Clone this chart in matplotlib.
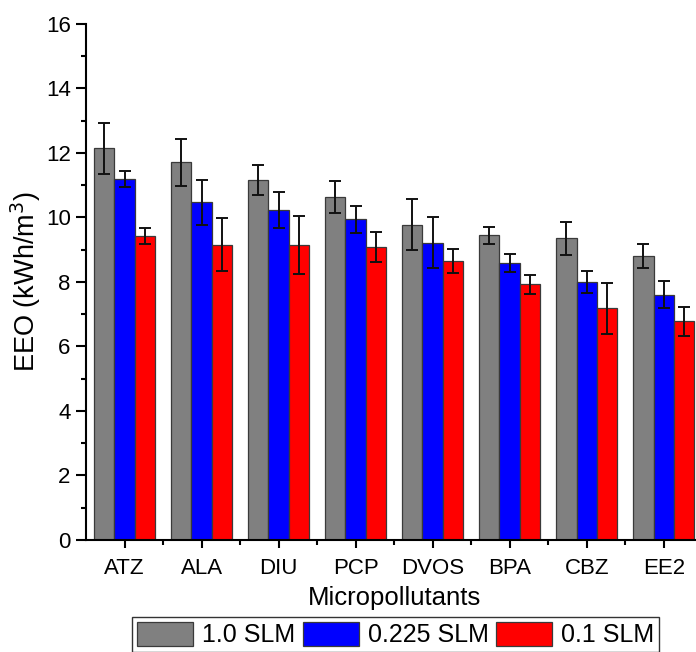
import matplotlib.pyplot as plt
import numpy as np
from matplotlib.ticker import MultipleLocator

plt.rcParams['font.family'] = ['Liberation Sans', 'DejaVu Sans']

#### Data
pollutants = ['ATZ', 'ALA', 'DIU', 'PCP', 'DVOS', 'BPA', 'CBZ', 'EE2']
series_names = ['1.0 SLM', '0.225 SLM', '0.1 SLM']

eeo_10 = [12.14, 11.71, 11.16, 10.64, 9.78, 9.45, 9.36, 8.80]
err_10 = [0.80, 0.72, 0.46, 0.50, 0.80, 0.27, 0.51, 0.37]

eeo_0225 = [11.19, 10.47, 10.23, 9.94, 9.22, 8.59, 8.00, 7.61]
err_0225 = [0.26, 0.70, 0.57, 0.42, 0.80, 0.27, 0.34, 0.43]

eeo_01 = [9.42, 9.16, 9.16, 9.09, 8.65, 7.93, 7.18, 6.78]
err_01 = [0.25, 0.82, 0.90, 0.46, 0.37, 0.29, 0.80, 0.45]

colors = ['#808080', '#0000FF', '#FF0000']

#### Figure
fig = plt.figure(figsize=(6.96, 6.52), dpi=100)
ax = fig.add_axes([0.1236, 0.1718, 0.8854, 0.7914])

x = np.arange(1, len(pollutants) + 1)
w = 0.265
all_vals = [eeo_10, eeo_0225, eeo_01]
all_errs = [err_10, err_0225, err_01]
handles = []
for k in range(3):
    b = ax.bar(x + (k - 1) * w, all_vals[k], w, color=colors[k],
               edgecolor='#3a3a3a', linewidth=0.9, label=series_names[k],
               yerr=all_errs[k], capsize=4,
               error_kw=dict(ecolor='#111111', elinewidth=1.4, capthick=1.4))
    handles.append(b)

ax.set_xlim(0.5, 8.5)
ax.set_ylim(0, 16)
ax.set_xticks(x)
ax.set_xticklabels(pollutants)
ax.set_xticks(np.arange(1.5, 8.5, 1), minor=True)
ax.yaxis.set_major_locator(MultipleLocator(2))
ax.yaxis.set_minor_locator(MultipleLocator(1))

ax.spines['top'].set_visible(False)
ax.spines['right'].set_visible(False)
ax.spines['left'].set_linewidth(1.5)
ax.spines['bottom'].set_linewidth(1.5)
ax.tick_params(axis='both', which='major', direction='out', length=7,
               width=1.5, labelsize=16, pad=4)
ax.tick_params(axis='x', which='major', length=6, pad=7)
ax.tick_params(axis='both', which='minor', direction='out', length=3.5,
               width=1.5)

ax.set_xlabel('Micropollutants', fontsize=18.5, labelpad=5)
ax.set_ylabel('EEO (kWh/m$^3$)', fontsize=19.5, labelpad=2)

leg = fig.legend(handles=handles, loc='upper left',
                 bbox_to_anchor=(0.19, 0.0537), ncol=3, fontsize=18,
                 frameon=True, fancybox=False, edgecolor='black',
                 handlelength=2.25, handleheight=1.1, handletextpad=0.35,
                 columnspacing=0.3, borderpad=0.2, borderaxespad=0)
leg.get_frame().set_linewidth(1.0)

plt.savefig('out.png', dpi=100)
